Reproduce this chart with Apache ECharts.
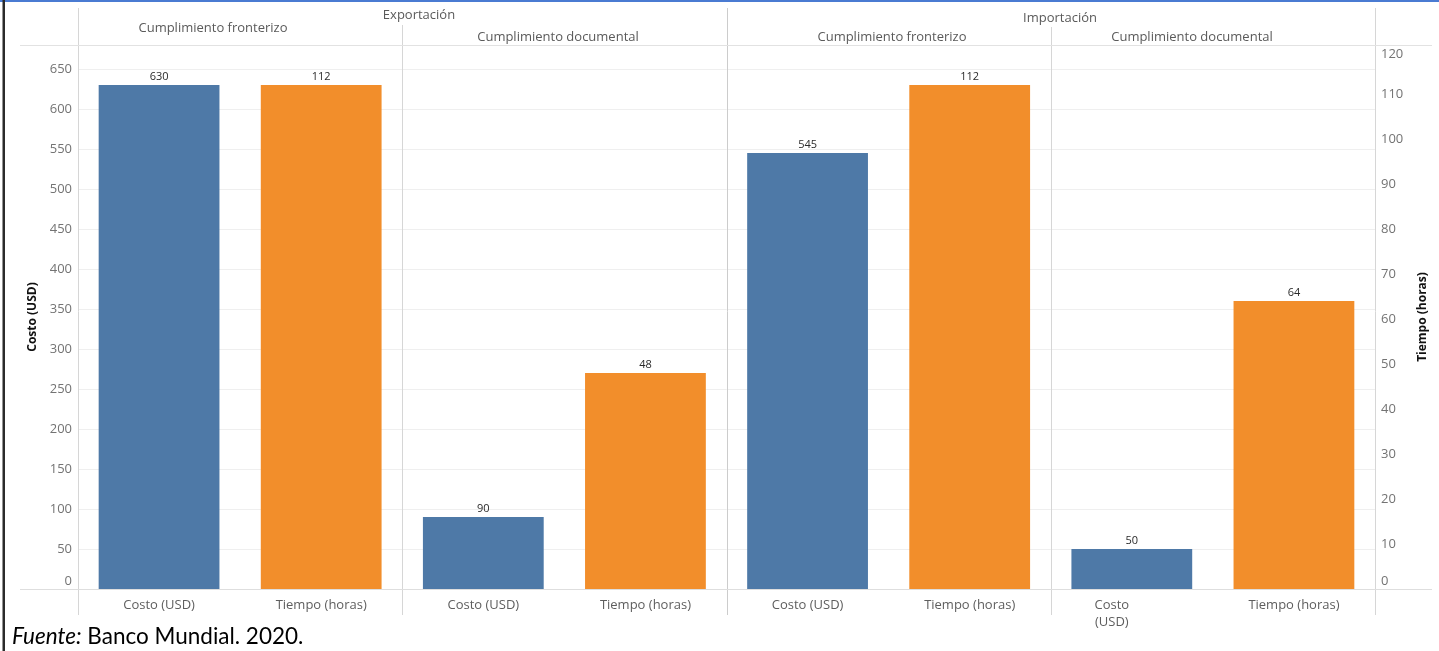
<!DOCTYPE html>
<html>
<head>
<meta charset="utf-8">
<title>Costo y tiempo de comercio transfronterizo</title>
<script src="https://cdn.jsdelivr.net/npm/echarts@6/dist/echarts.min.js"></script>
<style>
  html, body { margin: 0; padding: 0; background: #ffffff; }
  #chart { width: 1439px; height: 651px; }
</style>
</head>
<body>
<div id="chart"></div>
<script>
// Panels: flow (Exportación / Importación) x stage (fronterizo / documental)
const flows = ['Exportación', 'Importación'];
const stages = ['Cumplimiento fronterizo', 'Cumplimiento documental'];
const measures = ['Costo (USD)', 'Tiempo (horas)'];

// Values per panel, in panel order
const costUSD = [630, 90, 545, 50];
const timeHours = [112, 48, 112, 64];

// Axis ranges
const costAxis = { min: 0, max: 680, interval: 50 };
const timeAxis = { min: 0, max: 120.9, interval: 10 };

const FONT = '"Open Sans", "Noto Sans", sans-serif';
const W = 1439, H = 651;
const grid = { left: 78, right: 64, top: 45, bottom: 62 };
const plotL = grid.left, plotR = W - grid.right;
const plotT = grid.top, plotB = H - grid.bottom;
const panelW = (plotR - plotL) / 4;

// Category list: two measures per panel
const categories = [];
const costData = [];
const timeData = [];
for (let p = 0; p < 4; p++) {
  const last = p === 3;
  categories.push(last
    ? { value: 'Costo\n(USD)', textStyle: { padding: [0, 40, 0, 0], lineHeight: 17 } }
    : measures[0]);
  categories.push(measures[1]);
  costData.push(costUSD[p], '-');
  timeData.push('-', timeHours[p]);
}

// edge labels are kept inside the pane: 0 nudged up, a tick touching the top nudged down
function edgeLabels(topTick) {
  return v => (v === 0 ? '{z|0}' : v === topTick ? '{t|' + v + '}' : String(v));
}
function axisLabelFor(topTick) {
  const base = { color: '#737373', fontFamily: FONT, fontSize: 13 };
  return Object.assign({}, base, {
    margin: 6, showMaxLabel: false, formatter: edgeLabels(topTick),
    rich: {
      z: Object.assign({ padding: [0, 0, 15, 0] }, base),
      t: Object.assign({ padding: [11, 0, 0, 0] }, base)
    }
  });
}

const lineColor = '#d6d6d6';
const graphics = [];
function vline(x, y1, y2, color) {
  graphics.push({ type: 'line', silent: true, z: 5,
    shape: { x1: x, y1: y1, x2: x, y2: y2 },
    style: { stroke: color || lineColor, lineWidth: 1 } });
}
function hline(y, x1, x2, color) {
  graphics.push({ type: 'line', silent: true, z: 5,
    shape: { x1: x1, y1: y, x2: x2, y2: y },
    style: { stroke: color || lineColor, lineWidth: 1 } });
}
function label(text, cx, cy, extra) {
  graphics.push({ type: 'text', silent: true, z: 6, x: cx, y: cy,
    style: Object.assign({ text: text, fill: '#5a5a5a', font: '13px ' + FONT,
      align: 'center', verticalAlign: 'middle' }, extra || {}) });
}

// frame of the panel table
const xs = [0, 1, 2, 3, 4].map(i => Math.round(plotL + i * panelW) + 0.5);
vline(xs[0], 8, 615);
vline(xs[1], 25, 615);
vline(xs[2], 8, 615, '#cccccc');
vline(xs[3], 27, 615);
vline(xs[4], 8, 615);
hline(plotT + 0.5, 20, 1432, '#e2e2e2');
hline(plotB + 0.5, 20, 1432, '#dedede');

// column headers
label(flows[0], 419, 15);
label(flows[1], 1060, 18);
label(stages[0], 213, 28);
label(stages[1], 558, 37);
label(stages[0], 892, 37);
label(stages[1], 1192, 37);

// source note
const noteFont = 'Lato, "Open Sans", sans-serif';
graphics.push({ type: 'text', silent: true, z: 6, x: 12, y: 637,
  style: { text: '{i|Fuente:} Banco Mundial. 2020.', fill: '#000', font: '22.5px ' + noteFont,
    verticalAlign: 'middle',
    rich: { i: { fontStyle: 'italic', fontSize: 22.5, fontFamily: noteFont, fill: '#000' } } } });

// page edges
graphics.push({ type: 'rect', silent: true, z: 10, shape: { x: 0, y: 0, width: W, height: 2 }, style: { fill: '#4a7bd2' } });
graphics.push({ type: 'rect', silent: true, z: 10, shape: { x: 2.5, y: 0, width: 2.5, height: H }, style: { fill: '#2b2b2b' } });

const chart = echarts.init(document.getElementById('chart'), null, { renderer: 'canvas' });
chart.setOption({
  animation: false,
  backgroundColor: '#ffffff',
  grid: grid,
  xAxis: {
    type: 'category',
    data: categories,
    axisLine: { show: false },
    axisTick: { show: false },
    axisLabel: { color: '#5e5e5e', fontFamily: FONT, fontSize: 13, margin: 8, interval: 0, lineHeight: 17 }
  },
  yAxis: [
    Object.assign({
      type: 'value', position: 'left',
      name: 'Costo (USD)', nameLocation: 'middle', nameGap: 33, nameRotate: 90,
      nameTextStyle: { color: '#111', fontFamily: FONT, fontSize: 12, fontWeight: 'bold' },
      axisLine: { show: false }, axisTick: { show: false },
      axisLabel: axisLabelFor(null),
      splitLine: { show: true, lineStyle: { color: '#efefef', width: 1 } }
    }, costAxis),
    Object.assign({
      type: 'value', position: 'right',
      name: 'Tiempo (horas)', nameLocation: 'middle', nameGap: 42, nameRotate: 90,
      nameTextStyle: { color: '#111', fontFamily: FONT, fontSize: 12, fontWeight: 'bold' },
      axisLine: { show: false }, axisTick: { show: false },
      axisLabel: axisLabelFor(120),
      splitLine: { show: false }
    }, timeAxis)
  ],
  series: [
    {
      name: measures[0], type: 'bar', yAxisIndex: 0, data: costData,
      barWidth: '74.5%', barGap: '-100%',
      itemStyle: { color: '#4e79a7' },
      label: { show: true, position: 'top', distance: 3, color: '#2a2a2a', fontFamily: FONT, fontSize: 11 }
    },
    {
      name: measures[1], type: 'bar', yAxisIndex: 1, data: timeData,
      barWidth: '74.5%', barGap: '-100%',
      itemStyle: { color: '#f28e2b' },
      label: { show: true, position: 'top', distance: 3, color: '#2a2a2a', fontFamily: FONT, fontSize: 11 }
    }
  ],
  graphic: graphics
});
</script>
</body>
</html>
